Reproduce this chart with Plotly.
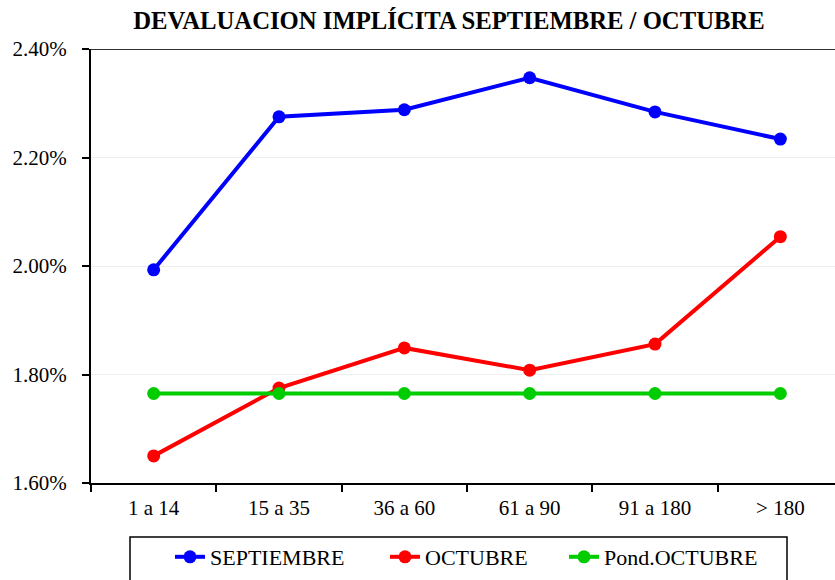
import plotly.graph_objects as go

categories = ["1 a 14", "15 a 35", "36 a 60", "61 a 90", "91 a 180", "> 180"]
septiembre = [1.993, 2.275, 2.288, 2.347, 2.284, 2.234]
octubre = [1.650, 1.775, 1.849, 1.808, 1.856, 2.054]
pond_octubre = [1.765, 1.765, 1.765, 1.765, 1.765, 1.765]
y_ticks = [1.60, 1.80, 2.00, 2.20, 2.40]
y_tick_labels = ["1.60%", "1.80%", "2.00%", "2.20%", "2.40%"]

FONT = "Liberation Serif"
W, H = 835, 580
L, R, T, B = 91, 0, 49, 97
PH = H - T - B


def px_to_paper_y(py):
    return (H - B - py) / PH


def px_to_paper_x(px):
    return (px - L) / (W - L - R)


fig = go.Figure()
series = [("SEPTIEMBRE", septiembre, "#0000FF", "legend"),
          ("OCTUBRE", octubre, "#FF0000", "legend2"),
          ("Pond.OCTUBRE", pond_octubre, "#00CC00", "legend3")]
for name, vals, color, lg in series:
    fig.add_trace(go.Scatter(x=categories, y=vals, name=name, mode="lines+markers",
                             line=dict(color=color, width=4),
                             marker=dict(color=color, size=13),
                             legend=lg))

leg_common = dict(orientation="h", yanchor="middle", xanchor="left",
                  bgcolor="rgba(0,0,0,0)", borderwidth=0,
                  font=dict(family=FONT, size=22, color="black"))
ly = px_to_paper_y(557)

fig.update_layout(
    width=W, height=H,
    margin=dict(l=L, r=R, t=T, b=B),
    paper_bgcolor="white", plot_bgcolor="white",
    font=dict(family=FONT, size=21, color="black"),
    title=dict(text="<b>DEVALUACION IMPLÍCITA SEPTIEMBRE / OCTUBRE</b>",
               font=dict(family=FONT, size=24.7, color="black"),
               x=449/835, xanchor="center", y=1-20/580, yanchor="middle"),
    showlegend=True,
    legend=dict(x=px_to_paper_x(170), y=ly, **leg_common),
    legend2=dict(x=px_to_paper_x(385), y=ly, **leg_common),
    legend3=dict(x=px_to_paper_x(564), y=ly, **leg_common),
    xaxis=dict(type="category", range=[-0.5, 5.436], showgrid=False, automargin=False,
               showline=True, linecolor="black", linewidth=2,
               ticks="outside", tickson="boundaries", ticklen=7, tickwidth=2, tickcolor="black",
               ticklabelstandoff=5,
               tickfont=dict(family=FONT, size=21, color="black")),
    yaxis=dict(range=[1.60, 2.40], tickvals=y_ticks, ticktext=y_tick_labels, automargin=False,
               showgrid=True, gridcolor="#EEEEEE", gridwidth=1, zeroline=False,
               showline=True, linecolor="black", linewidth=2,
               ticks="outside", ticklen=7, tickwidth=2, tickcolor="black",
               ticklabelstandoff=11,
               tickfont=dict(family=FONT, size=21, color="black")),
    shapes=[dict(type="line", xref="paper", yref="y", x0=0, x1=1, y0=2.40, y1=2.40,
                 line=dict(color="#333333", width=2), layer="below"),
            dict(type="rect", xref="paper", yref="paper",
                 x0=px_to_paper_x(130), x1=px_to_paper_x(787),
                 y0=px_to_paper_y(600), y1=px_to_paper_y(537),
                 line=dict(color="black", width=1.5), fillcolor="rgba(0,0,0,0)")],
)

fig.write_html("out.html", config={"displayModeBar": False},
               post_script="document.body.style.margin='0';document.body.style.overflow='hidden';")
